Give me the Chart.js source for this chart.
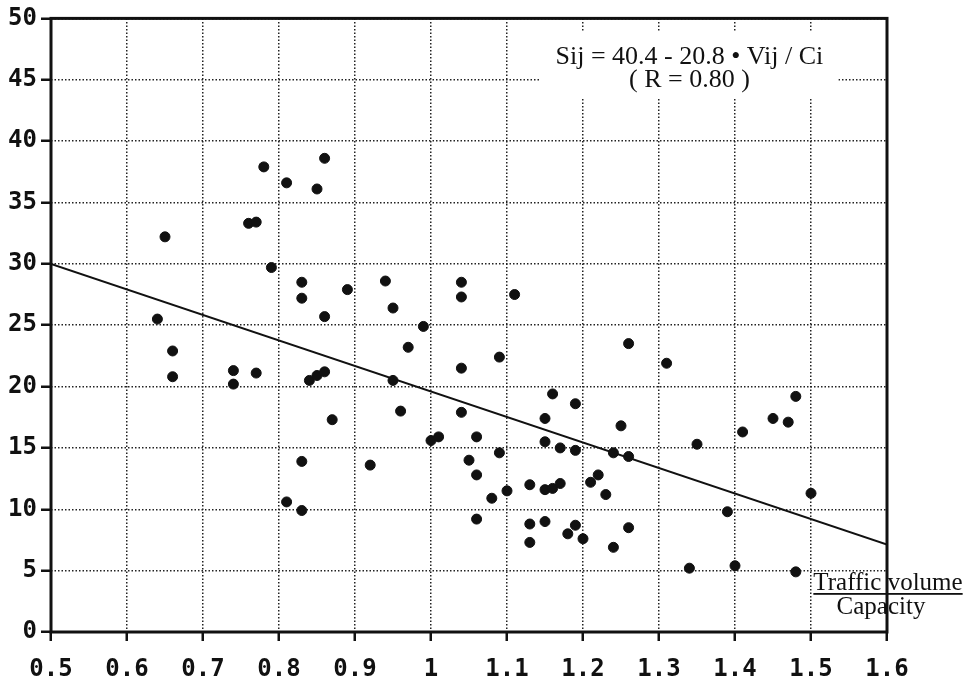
<!DOCTYPE html>
<html>
<head>
<meta charset="utf-8">
<script src="https://cdn.jsdelivr.net/npm/chart.js@4.4.1/dist/chart.umd.min.js"></script>
<style>
  html, body { margin: 0; padding: 0; background: #fff; }
  #wrap { width: 969px; height: 682px; }
</style>
</head>
<body>
<div id="wrap"><canvas id="grafico" width="969" height="682"></canvas></div>
<script>
// datos (Vij/Ci , Sij)
var volCap = [0.64, 0.65, 0.66, 0.66, 0.74, 0.74, 0.77, 0.76, 0.77, 0.78, 0.79, 0.81, 0.83, 0.83, 0.85, 0.86, 0.86,
  0.81, 0.83, 0.83, 0.84, 0.85, 0.86, 0.87, 0.89, 0.92, 0.94, 0.95, 0.95, 0.96, 0.97, 0.99, 1.00, 1.01,
  1.04, 1.04, 1.04, 1.04, 1.05, 1.06, 1.06, 1.06, 1.08, 1.09, 1.09, 1.10, 1.11, 1.13, 1.13, 1.13,
  1.15, 1.15, 1.15, 1.15, 1.16, 1.16, 1.17, 1.17, 1.18, 1.19, 1.19, 1.19, 1.20, 1.21, 1.22, 1.23,
  1.24, 1.24, 1.25, 1.26, 1.26, 1.26, 1.31, 1.35, 1.34, 1.39, 1.40, 1.41, 1.45, 1.47, 1.48, 1.48, 1.50];
var sij = [25.5, 32.2, 22.9, 20.8, 21.3, 20.2, 21.1, 33.3, 33.4, 37.9, 29.7, 36.6, 28.5, 27.2, 36.1, 38.6, 25.7,
  10.6, 13.9, 9.9, 20.5, 20.9, 21.2, 17.3, 27.9, 13.6, 28.6, 26.4, 20.5, 18.0, 23.2, 24.9, 15.6, 15.9,
  28.5, 27.3, 21.5, 17.9, 14.0, 15.9, 12.8, 9.2, 10.9, 14.6, 22.4, 11.5, 27.5, 12.0, 8.8, 7.3,
  17.4, 15.5, 11.6, 9.0, 19.4, 11.7, 15.0, 12.1, 8.0, 18.6, 14.8, 8.7, 7.6, 12.2, 12.8, 11.2,
  14.6, 6.9, 16.8, 14.3, 8.5, 23.5, 21.9, 15.3, 5.2, 9.8, 5.4, 16.3, 17.4, 17.1, 19.2, 4.9, 11.3];

// recta de regresion Sij = 40.4 - 20.8 * Vij/Ci
var coefA = 40.4;
var coefB = 20.8;
var xLimites = [0.5, 1.6];
var yLimites = [0, 50];

var puntos = volCap.map(function (v, i) { return { x: v, y: sij[i] }; });
var recta = xLimites.map(function (v) { return { x: v, y: coefA - coefB * v }; });

var fuenteSerif = '"Liberation Serif", "DejaVu Serif", serif';
var fuenteMono = '"DejaVu Sans Mono", "Liberation Mono", monospace';

// marco y textos
var pluginTextos = {
  id: 'textos',
  beforeDatasetsDraw: function (chart) {
    var ctx = chart.ctx;
    var a = chart.chartArea;
    var sx = chart.scales.x;
    // caja blanca de la ecuacion
    ctx.save();
    ctx.font = '26px ' + fuenteSerif;
    var t1 = 'Sij = 40.4 - 20.8 \u2022 Vij / Ci';
    var t2 = '( R = 0.80 )';
    var cx = sx.getPixelForValue(1.34);
    var w = ctx.measureText(t1).width;
    ctx.fillStyle = '#fff';
    ctx.fillRect(cx - w / 2 - 15, a.top + 13, w + 30, 67);
    ctx.fillStyle = '#111';
    ctx.textAlign = 'center';
    ctx.textBaseline = 'alphabetic';
    ctx.fillText(t1, cx, a.top + 46);
    ctx.fillText(t2, cx, a.top + 69);
    ctx.restore();

    // marco
    ctx.save();
    ctx.strokeStyle = '#111';
    ctx.lineWidth = 3;
    ctx.strokeRect(a.left, a.top, a.right - a.left, a.bottom - a.top);
    ctx.restore();
  },
  afterDraw: function (chart) {
    var ctx = chart.ctx;
    var a = chart.chartArea;
    ctx.save();
    ctx.font = '25px ' + fuenteSerif;
    ctx.fillStyle = '#111';
    ctx.textAlign = 'center';
    var t = 'Traffic volume';
    var w = ctx.measureText(t).width;
    ctx.fillText(t, a.right + 1, a.bottom - 42);
    ctx.fillRect(a.right + 1 - w / 2, a.bottom - 39, w, 1.8);
    ctx.fillText('Capacity', a.right - 6, a.bottom - 18);
    ctx.restore();
  }
};

new Chart(document.getElementById('grafico').getContext('2d'), {
  type: 'scatter',
  data: {
    datasets: [
      {
        label: 'Sij',
        data: puntos,
        backgroundColor: '#111',
        borderColor: '#111',
        pointRadius: 5,
        pointHoverRadius: 5
      },
      {
        type: 'line',
        label: 'recta',
        data: recta,
        borderColor: '#111',
        borderWidth: 2,
        pointRadius: 0,
        fill: false
      }
    ]
  },
  options: {
    responsive: false,
    animation: false,
    layout: { padding: { top: 17, right: 82, left: 0, bottom: 0 } },
    plugins: {
      legend: { display: false },
      tooltip: { enabled: false }
    },
    scales: {
      x: {
        type: 'linear',
        min: xLimites[0],
        max: xLimites[1],
        afterFit: function (scale) { scale.height = 50; },
        afterBuildTicks: function (scale) {
          var t = [];
          for (var i = 0; i <= 11; i++) t.push({ value: Math.round((0.5 + i * 0.1) * 10) / 10 });
          scale.ticks = t;
        },
        ticks: {
          color: '#111',
          font: { family: fuenteMono, size: 24, weight: 'bold' },
          padding: 14,
          maxRotation: 0,
          autoSkip: false,
          callback: function (v) { return v === 1 ? '1' : v.toFixed(1); }
        },
        grid: { color: '#222', lineWidth: 1.5, tickLength: 9, tickColor: '#111', tickWidth: 2.5 },
        border: { display: false, dash: [1.5, 2] }
      },
      y: {
        min: yLimites[0],
        max: yLimites[1],
        afterFit: function (scale) { scale.width = 51; },
        ticks: {
          stepSize: 5,
          color: '#111',
          font: { family: fuenteMono, size: 24, weight: 'bold' },
          padding: 4
        },
        grid: { color: '#222', lineWidth: 1.5, tickLength: 10, tickColor: '#111', tickWidth: 2.5 },
        border: { display: false, dash: [1.5, 2] }
      }
    }
  },
  plugins: [pluginTextos]
});
</script>
</body>
</html>
